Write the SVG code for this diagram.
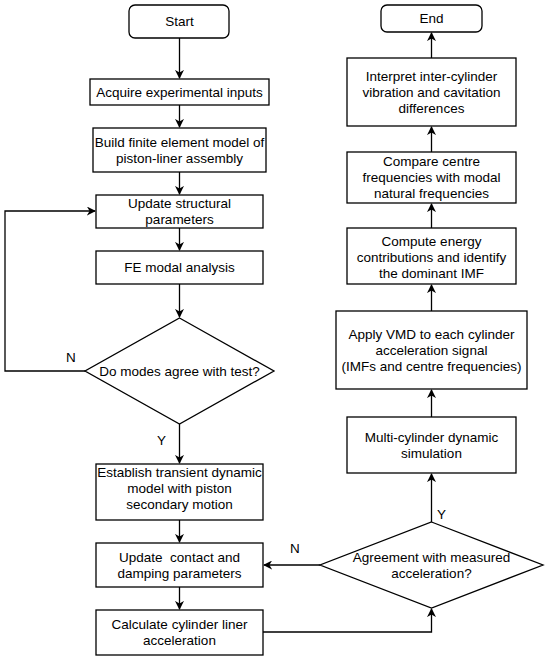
<svg xmlns="http://www.w3.org/2000/svg" width="550" height="659" viewBox="0 0 550 659">
<style>
.box{fill:#fff;stroke:#000;stroke-width:1.3}
.t{font-family:"Liberation Sans",Arial,sans-serif;font-size:13.5px;fill:#000;text-anchor:middle;white-space:pre}
.lbl{font-family:"Liberation Sans",Arial,sans-serif;font-size:13.5px;fill:#000}
.c{fill:none;stroke:#000;stroke-width:1.3}
</style>
<defs>
<marker id="ah" viewBox="0 0 10 10" refX="9" refY="5" markerWidth="9" markerHeight="9" markerUnits="userSpaceOnUse" orient="auto">
<path d="M0,0 L10,5 L0,10 L3,5 Z" fill="#000"/>
</marker>
</defs>
<rect width="550" height="659" fill="#fff"/>
<g id="connectors">
<path class="c" d="M179.5,38 V78" marker-end="url(#ah)"/>
<path class="c" d="M179.5,105 V127" marker-end="url(#ah)"/>
<path class="c" d="M179.5,172 V194" marker-end="url(#ah)"/>
<path class="c" d="M179.5,228 V250" marker-end="url(#ah)"/>
<path class="c" d="M179.5,284 V317" marker-end="url(#ah)"/>
<path class="c" d="M179.5,424 V463" marker-end="url(#ah)"/>
<path class="c" d="M179.5,520 V542" marker-end="url(#ah)"/>
<path class="c" d="M179.5,587 V609" marker-end="url(#ah)"/>
<path class="c" d="M85,371 H5 V211 H95" marker-end="url(#ah)"/>
<path class="c" d="M263,632 H431.5 V609" marker-end="url(#ah)"/>
<path class="c" d="M320,565 H264" marker-end="url(#ah)"/>
<path class="c" d="M431.5,522 V474" marker-end="url(#ah)"/>
<path class="c" d="M431.5,417 V390" marker-end="url(#ah)"/>
<path class="c" d="M431.5,311 V285" marker-end="url(#ah)"/>
<path class="c" d="M431.5,228 V204" marker-end="url(#ah)"/>
<path class="c" d="M431.5,152 V127" marker-end="url(#ah)"/>
<path class="c" d="M431.5,58 V33" marker-end="url(#ah)"/>
<text class="lbl" x="66" y="362">N</text>
<text class="lbl" x="157" y="445">Y</text>
<text class="lbl" x="290" y="553">N</text>
<text class="lbl" x="437" y="519">Y</text>
</g>
<g id="start"><rect class="box" x="129" y="5" width="100" height="33" rx="6"/><text class="t" x="179.5" y="26">Start</text></g>
<g id="acquire"><rect class="box" x="90" y="79" width="179" height="26"/><text class="t" x="179.5" y="96.5">Acquire experimental inputs</text></g>
<g id="build"><rect class="box" x="93" y="128" width="173" height="44"/><text class="t" x="179.5" y="146.5">Build finite element model of</text><text class="t" x="179.5" y="162.5">piston-liner assembly</text></g>
<g id="update-structural"><rect class="box" x="96" y="195" width="167" height="33"/><text class="t" x="179.5" y="208">Update structural</text><text class="t" x="179.5" y="224">parameters</text></g>
<g id="fe-modal"><rect class="box" x="96" y="251" width="167" height="33"/><text class="t" x="179.5" y="272">FE modal analysis</text></g>
<g id="decision-modes"><polygon class="box" points="179.5,318 274,371 179.5,424 85,371"/><text class="t" x="179.5" y="375.5">Do modes agree with test?</text></g>
<g id="establish"><rect class="box" x="96" y="464" width="167" height="56"/><text class="t" x="179.5" y="476.5">Establish transient dynamic</text><text class="t" x="179.5" y="492.5">model with piston</text><text class="t" x="179.5" y="508.5">secondary motion</text></g>
<g id="update-contact"><rect class="box" x="96" y="543" width="167" height="44"/><text class="t" x="179.5" y="561.5" xml:space="preserve">Update  contact and</text><text class="t" x="179.5" y="577.5">damping parameters</text></g>
<g id="calculate"><rect class="box" x="96" y="610" width="167" height="45"/><text class="t" x="179.5" y="629">Calculate cylinder liner</text><text class="t" x="179.5" y="645">acceleration</text></g>
<g id="decision-accel"><polygon class="box" points="431.5,522 543,565 431.5,608 320,565"/><text class="t" x="431.5" y="561.5">Agreement with measured</text><text class="t" x="431.5" y="577.5">acceleration?</text></g>
<g id="multi"><rect class="box" x="347" y="417" width="169" height="56"/><text class="t" x="431.5" y="441.5">Multi-cylinder dynamic</text><text class="t" x="431.5" y="457.5">simulation</text></g>
<g id="vmd"><rect class="box" x="336" y="311" width="191" height="78"/><text class="t" x="431.5" y="338.5">Apply VMD to each cylinder</text><text class="t" x="431.5" y="354.5">acceleration signal</text><text class="t" x="431.5" y="370.5">(IMFs and centre frequencies)</text></g>
<g id="energy"><rect class="box" x="347" y="228" width="169" height="56"/><text class="t" x="431.5" y="245.5">Compute energy</text><text class="t" x="431.5" y="261.5">contributions and identify</text><text class="t" x="431.5" y="277.5">the dominant IMF</text></g>
<g id="compare"><rect class="box" x="347" y="152" width="169" height="51"/><text class="t" x="431.5" y="166">Compare centre</text><text class="t" x="431.5" y="182">frequencies with modal</text><text class="t" x="431.5" y="198">natural frequencies</text></g>
<g id="interpret"><rect class="box" x="347" y="58" width="169" height="68"/><text class="t" x="431.5" y="80.5">Interpret inter-cylinder</text><text class="t" x="431.5" y="96.5">vibration and cavitation</text><text class="t" x="431.5" y="112.5">differences</text></g>
<g id="end"><rect class="box" x="381" y="5" width="101" height="27" rx="6"/><text class="t" x="431.5" y="23">End</text></g>
</svg>
